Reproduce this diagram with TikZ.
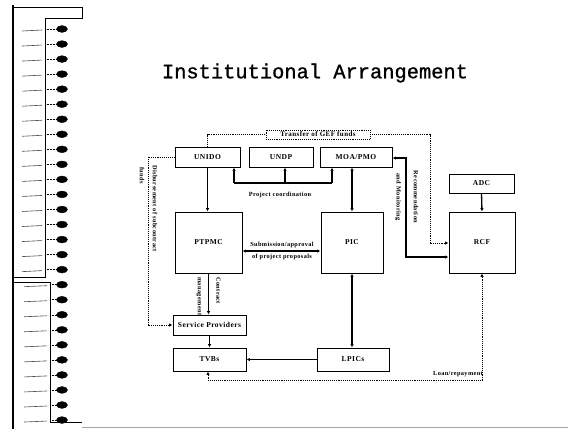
\documentclass[tikz,border=0pt]{standalone}
\usepackage{fontspec}
\setmainfont{Liberation Serif}
\newfontfamily\titlefont[FakeBold=1]{Liberation Mono}
\newfontfamily\lblfont[LetterSpace=6]{Liberation Serif}
\usetikzlibrary{arrows.meta,calc}
\tikzset{
  box/.style={draw, line width=0.9pt, inner sep=0pt, font=\lblfont\bfseries\fontsize{7.5}{8}\selectfont},
  sline/.style={line width=1.3pt},
  dline/.style={line width=0.9pt, densely dotted},
  tip/.style={-{Latex[length=3.5pt,width=3.5pt]}},
  tips/.style={{Latex[length=3.5pt,width=3.5pt]}-{Latex[length=3.5pt,width=3.5pt]}},
  lbl/.style={inner sep=0pt, font=\lblfont\bfseries\fontsize{6.3}{7}\selectfont},
  ring/.style={fill=black, draw=black}
}
\begin{document}
\begin{tikzpicture}[x=1pt, y=-1pt]
\useasboundingbox (0,0) rectangle (568,429);
% notebook binding decoration
\draw[line width=1.3pt] (13,5) -- (13,429);
\draw[line width=0.8pt] (13,7) -- (82,7) -- (82,18) -- (45,18) -- (45,277) -- (13,277);
\draw[line width=0.8pt] (13,282) -- (50,282) -- (50,422) -- (82,422);
\draw[gray!70, line width=0.8pt] (82,427) -- (568,427);
\foreach \i [evaluate=\i as \yy using 29+\i*15.04] in {0,...,16}{
  \fill[ring] (62,\yy) ellipse [x radius=5.5, y radius=3.4];
  \draw[line width=0.5pt, densely dotted] (45,\yy) -- (57,\yy);
  \draw[line width=0.6pt, black!70] (22,\yy+2) -- (42,\yy+1);
}
\foreach \i [evaluate=\i as \yy using 29+\i*15.04] in {17,...,26}{
  \fill[ring] (62,\yy) ellipse [x radius=5.5, y radius=3.4];
  \draw[line width=0.5pt, densely dotted] (50,\yy) -- (57,\yy);
  \draw[line width=0.6pt, black!70] (24,\yy+2) -- (47,\yy+1);
}
% title
\node[font=\titlefont\fontsize{20.4}{22}\selectfont] (title) at (315,73) {Institutional Arrangement};
% boxes
\node[box, minimum width=65pt, minimum height=20pt] (UNIDO) at (207.5,157) {UNIDO};
\node[box, minimum width=64pt, minimum height=20pt] (UNDP) at (281,157) {UNDP};
\node[box, minimum width=72pt, minimum height=20pt] (MOA) at (356,157) {MOA/PMO};
\node[box, densely dotted, minimum width=104pt, minimum height=9pt, font=\lblfont\bfseries\fontsize{7}{7.5}\selectfont] (GEF) at (318,134.5) {Transfer of GEF funds};
\node[box, minimum width=65pt, minimum height=19pt] (ADC) at (481.5,183.5) {ADC};
\node[box, minimum width=66pt, minimum height=61pt] (RCF) at (482,242.5) {RCF};
\node[box, minimum width=67pt, minimum height=61pt] (PTPMC) at (208.5,242.5) {PTPMC};
\node[box, minimum width=62pt, minimum height=61pt] (PIC) at (352,242.5) {PIC};
\node[box, minimum width=73pt, minimum height=20pt] (SP) at (209.5,325) {Service Providers};
\node[box, minimum width=73pt, minimum height=23pt] (TVBs) at (209.5,359.5) {TVBs};
\node[box, minimum width=72pt, minimum height=23pt] (LPICs) at (353,359.5) {LPICs};
% helper coordinates
\coordinate (g1) at (430,135);
\coordinate (g2) at (430,243);
\coordinate (m1) at (406,158);
\coordinate (m2) at (406,257);
\coordinate (pcL) at (234,183);
\coordinate (pcM) at (285,183);
\coordinate (pcR) at (332,183);
\coordinate (sa) at (280,251);
\coordinate (d1) at (148,157);
\coordinate (d2) at (148,325);
\coordinate (l1) at (482,380);
\coordinate (l2) at (208,380);
% connectors
\draw[dline] (UNIDO.north) |- (GEF.west);
\draw[dline, tip] (GEF.east) -| (g1) -- (g2) -- (g2 -| RCF.west);
\draw[sline, tips] (MOA.east |- m1) -- (m1) -- (m2) -- (m2 -| RCF.west);
\draw[sline, tip] (ADC.south) -- (RCF.north);
\draw[sline, tip] (UNIDO.south) -- (UNIDO.south |- PTPMC.north);
\draw[sline] (pcL) -- (pcR);
\draw[sline, tip] (pcL) -- (pcL |- UNIDO.south);
\draw[sline, tip] (pcM) -- (pcM |- UNDP.south);
\draw[sline, tip] (pcR) -- (pcR |- MOA.south);
\draw[sline, tips] (PIC.north) -- (PIC.north |- MOA.south);
\draw[sline, tips] (PIC.south) -- (PIC.south |- LPICs.north);
\draw[sline, tips] (PTPMC.east |- sa) -- (PIC.west |- sa);
\draw[dline, tip] (UNIDO.west) -- (d1) -- (d2) -- (SP.west);
\draw[sline, tip] (PTPMC.south) -- (PTPMC.south |- SP.north);
\draw[sline, tip] (SP.south) -- (TVBs.north);
\draw[sline, tip] (LPICs.west) -- (TVBs.east);
\draw[dline, tips] (RCF.south) -- (l1) -- (l2) -- (l2 |- TVBs.south);
% labels
\node[lbl] (pclbl) at (280,195) {Project coordination};
\node[lbl, align=center, font=\lblfont\bfseries\fontsize{6.3}{12}\selectfont] (salbl) at (282,251) {Submission/approval\\of project proposals};
\node[lbl, rotate=-90, anchor=west] (disb) at (155,165) {Disbursement of subcontract};
\node[lbl, rotate=-90, anchor=west] (funds) at (142,167) {funds};
\node[lbl, rotate=-90] (rec) at (416,197) {Recommendation};
\node[lbl, rotate=-90] (mon) at (398,197) {and Monitoring};
\node[lbl, rotate=-90, anchor=west] (contr) at (218.5,277) {Contract};
\node[lbl, rotate=-90, anchor=west] (mgmt) at (199,277) {management};
\node[lbl, anchor=south east] (loan) at (483,377) {Loan/repayment};
\end{tikzpicture}
\end{document}
